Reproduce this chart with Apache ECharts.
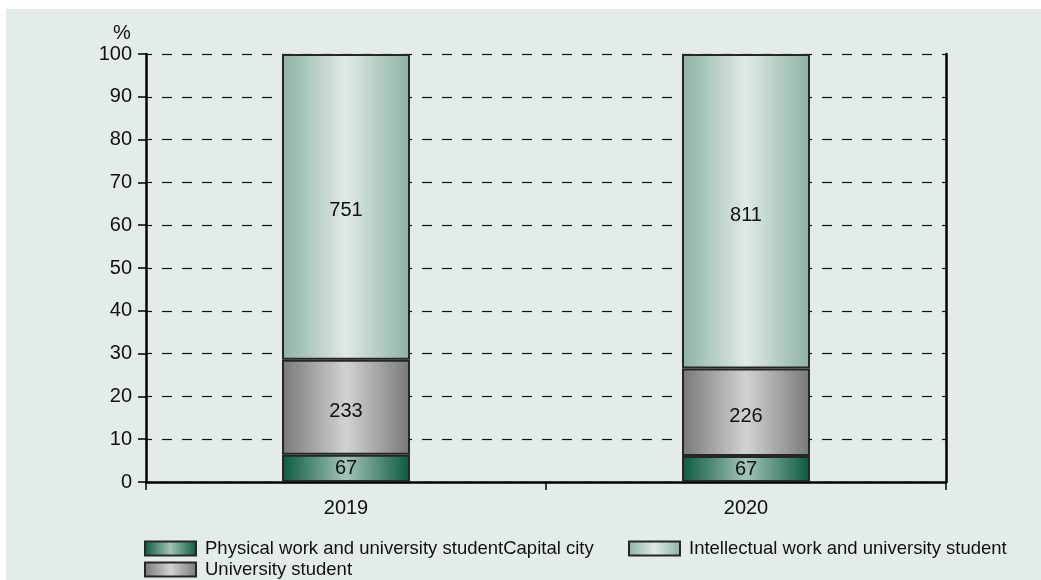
<!DOCTYPE html>
<html>
<head>
<meta charset="utf-8">
<script src="https://cdn.jsdelivr.net/npm/echarts@6/dist/echarts.min.js"></script>
<style>
  html, body { margin: 0; padding: 0; background: #ffffff; }
  #chart { position: absolute; left: 6px; top: 9px; width: 1035px; height: 571px; background: #e4ece9; }
</style>
</head>
<body>
<div id="chart"></div>
<script>
// Respondent counts per year; bars are drawn as shares of each year's total
const years = ['2019', '2020'];
const physicalCapital = [67, 67];
const universityStudent = [233, 226];
const intellectualWork = [751, 811];
const yTicks = [0, 10, 20, 30, 40, 50, 60, 70, 80, 90, 100];

const seriesNames = [
  'Physical work and university studentCapital city',
  'University student',
  'Intellectual work and university student'
];

const totals = years.map((_, i) => physicalCapital[i] + universityStudent[i] + intellectualWork[i]);
const toShare = arr => arr.map((v, i) => ({ value: v / totals[i] * 100, count: v }));

function hGrad(edge, mid) {
  return new echarts.graphic.LinearGradient(0, 0, 1, 0, [
    { offset: 0, color: edge },
    { offset: 0.5, color: mid },
    { offset: 1, color: edge }
  ]);
}

const fills = [
  hGrad('#0b5a3d', '#a2c4b6'),
  hGrad('#77787a', '#d1d2d4'),
  hGrad('#8cb3a3', '#dfe9e5')
];

const font = 'Liberation Sans, Arial, Helvetica, sans-serif';

function barSeries(name, arr, fill, labelShift) {
  return {
    name: name,
    type: 'bar',
    stack: 'total',
    barWidth: 128,
    data: toShare(arr),
    itemStyle: { color: fill, borderColor: '#262626', borderWidth: 2 },
    label: {
      show: true,
      position: 'inside',
      offset: [0, labelShift],
      formatter: p => String(p.data.count),
      color: '#111',
      fontSize: 20,
      fontFamily: font
    },
    emphasis: { disabled: true }
  };
}

const chart = echarts.init(document.getElementById('chart'), null, { renderer: 'canvas' });

const legendCommon = {
  orient: 'horizontal',
  padding: 0,
  itemWidth: 51,
  itemHeight: 14,
  icon: 'rect',
  textStyle: { fontSize: 18.5, color: '#111', fontFamily: font, padding: [0, 0, 0, 4] },
  selectedMode: false
};

chart.setOption({
  animation: false,
  textStyle: { fontFamily: font },
  grid: { left: 140, right: 95, top: 45, bottom: 98 },
  legend: [
    Object.assign({ left: 138, top: 530, data: [seriesNames[0]] }, legendCommon),
    Object.assign({ left: 622, top: 530, data: [seriesNames[2]] }, legendCommon),
    Object.assign({ left: 138, top: 551, data: [seriesNames[1]] }, legendCommon)
  ],
  graphic: [{
    type: 'text',
    left: 107,
    top: 14,
    style: { text: '%', fill: '#111', font: '20px ' + font }
  }],
  xAxis: {
    type: 'category',
    data: years,
    axisLine: { lineStyle: { color: '#000', width: 2.5 } },
    axisTick: { show: true, alignWithLabel: false, length: 8, lineStyle: { color: '#000', width: 1.5 } },
    axisLabel: { fontSize: 20, color: '#111', margin: 16, fontFamily: font },
    splitLine: { show: false }
  },
  yAxis: [{
    type: 'value',
    min: yTicks[0],
    max: yTicks[yTicks.length - 1],
    interval: yTicks[1] - yTicks[0],
    position: 'left',
    axisLine: { show: true, lineStyle: { color: '#000', width: 2.5 } },
    axisTick: { show: true, length: 8, lineStyle: { color: '#000', width: 1.5 } },
    axisLabel: { fontSize: 20, color: '#111', margin: 14, fontFamily: font },
    splitLine: { show: true, lineStyle: { color: '#111', width: 1.2, type: [10, 10], dashOffset: 4 } }
  }, {
    type: 'value',
    min: yTicks[0],
    max: yTicks[yTicks.length - 1],
    interval: yTicks[1] - yTicks[0],
    position: 'right',
    axisLine: { show: true, lineStyle: { color: '#000', width: 2.5 } },
    axisTick: { show: false },
    axisLabel: { show: false },
    splitLine: { show: false }
  }],
  series: [
    barSeries(seriesNames[0], physicalCapital, fills[0], 0),
    barSeries(seriesNames[1], universityStudent, fills[1], 4),
    barSeries(seriesNames[2], intellectualWork, fills[2], 4)
  ]
});
</script>
</body>
</html>
